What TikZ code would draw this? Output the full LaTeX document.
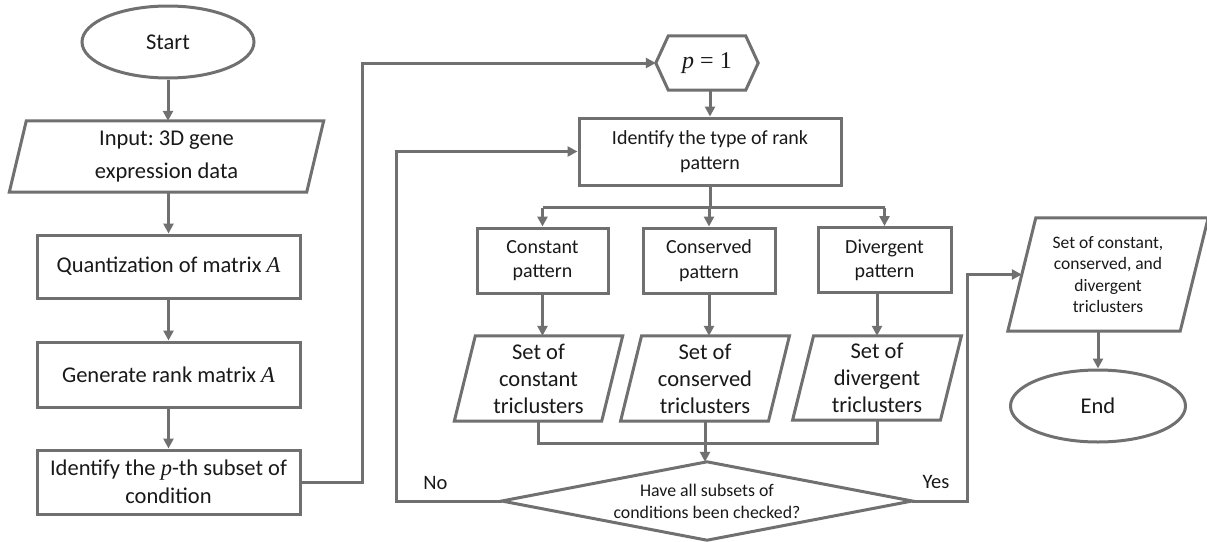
\documentclass[tikz,border=0pt]{standalone}
\usepackage{fontspec}
\setmainfont{Carlito}
\newfontfamily\mathfnt{Liberation Serif}
\newcommand\mv[1]{{\mathfnt\itshape #1}}
\frenchspacing
\usetikzlibrary{arrows.meta,shapes.geometric}
\definecolor{lc}{RGB}{112,112,112}
\definecolor{tc}{RGB}{25,25,25}
\newcommand\myparashape[2]{\draw[line,line join=miter] ([xshift=#2]#1.north west) -- ([xshift=#2]#1.north east) -- ([xshift=-#2]#1.south east) -- ([xshift=-#2]#1.south west) -- cycle;}
\tikzset{
  line/.style={draw=lc,line width=3pt},
  arr/.style={line,-{Triangle[length=10pt,width=10pt]}},
  box/.style={rectangle,draw=lc,line width=3pt,text=tc,align=center,inner sep=0pt},
  ghost/.style={rectangle,draw=none,text=tc,align=center,inner sep=0pt},
  oval/.style={ellipse,draw=lc,line width=3pt,text=tc,inner sep=0pt,minimum width=172pt,minimum height=72pt},
  bigtxt/.style={font=\fontsize{22.5}{30}\selectfont},
  midtxt/.style={font=\fontsize{20}{24.5}\selectfont},
  settxt/.style={font=\fontsize{22.5}{27}\selectfont},
  smalltxt/.style={font=\fontsize{17.8}{22}\selectfont},
}
\begin{document}
\begin{tikzpicture}[x=1pt,y=-1pt]
\useasboundingbox[fill=white] (0,0) rectangle (1207,541);
% left column
\node[oval,bigtxt] (start) at (168,42) {Start};
\node[ghost,font=\fontsize{22.5}{32.5}\selectfont,minimum width=297pt,minimum height=71pt] (input) at (166.5,156.5) {Input: 3D gene\\expression data};
\myparashape{input}{8.5}
\node[box,bigtxt,minimum width=263pt,minimum height=63pt] (quant) at (168.5,266.5) {Quantization of matrix \mv{A}};
\node[box,bigtxt,minimum width=263pt,minimum height=65pt] (gen) at (168.5,374.5) {Generate rank matrix \mv{A}};
\node[box,bigtxt,minimum width=263pt,minimum height=64pt,font=\fontsize{22.5}{28}\selectfont] (ident) at (168.5,482) {Identify the \mv{p}-th subset of\\condition};
% middle
\node[ghost,font=\fontsize{24}{28}\selectfont,minimum width=102pt,minimum height=54pt] (p1) at (707,63) {{\mathfnt\itshape p\upshape\ = 1}};
\draw[line,line join=miter] (p1.west) -- ([xshift=12.5]p1.north west) -- ([xshift=-12.5]p1.north east) -- (p1.east) -- ([xshift=-12.5]p1.south east) -- ([xshift=12.5]p1.south west) -- cycle;
\node[box,midtxt,minimum width=262pt,minimum height=67pt] (type) at (710,151.5) {Identify the type of rank\\pattern};
\node[box,midtxt,minimum width=131pt,minimum height=65pt] (cpat) at (542.5,260.5) {Constant\\pattern};
\node[box,midtxt,minimum width=132pt,minimum height=65pt] (vpat) at (709,260.5) {Conserved\\pattern};
\node[box,midtxt,minimum width=133pt,minimum height=65pt] (dpat) at (884.5,260) {Divergent\\pattern};
\node[ghost,settxt,minimum width=147pt,minimum height=85pt] (cset) at (538.5,378.5) {Set of\\constant\\triclusters};
\myparashape{cset}{10.5}
\node[ghost,settxt,minimum width=147.5pt,minimum height=85pt] (vset) at (705,378.5) {Set of\\conserved\\triclusters};
\myparashape{vset}{10.5}
\node[ghost,settxt,minimum width=147.5pt,minimum height=84pt] (dset) at (877,378) {Set of\\divergent\\triclusters};
\myparashape{dset}{10.5}
\node[ghost,smalltxt,minimum width=410pt,minimum height=78pt] (dia) at (707,501) {Have all subsets of\\conditions been checked?};
\draw[line,line join=miter] (dia.north) -- (dia.east) -- (dia.south) -- (dia.west) -- cycle;
\node[ghost,font=\fontsize{20.5}{24}\selectfont] (no) at (435.5,483) {No};
\node[ghost,font=\fontsize{20.5}{24}\selectfont] (yes) at (936,482) {Yes};
% right
\node[ghost,font=\fontsize{17.5}{21.6}\selectfont,minimum width=172pt,minimum height=113pt] (fin) at (1108,274.5) {Set of constant,\\conserved, and\\divergent\\triclusters};
\myparashape{fin}{14}
\node[oval,bigtxt,minimum width=175pt] (end) at (1098,406) {End};
% connectors
\draw[arr] (start.south) -- (start.south |- input.north);
\draw[arr] (quant.north |- input.south) -- (quant.north);
\draw[arr] (quant.south) -- (gen.north);
\draw[arr] (gen.south) -- (ident.north);
\draw[arr] (ident.east) -- (362,482) |- (p1.west);
\draw[arr] (p1.south -| type.north) -- (type.north);
\draw[line] (type.south) -- ++(0,21) coordinate (br);
\draw[line] (br -| cpat.north) -- (br -| dpat.north);
\draw[arr] (br -| cpat.north) -- (cpat.north);
\draw[arr] (br) -- (br -| vpat.north) -- (vpat.north);
\draw[arr] (br -| dpat.north) -- (dpat.north);
\draw[arr] (cpat.south) -- (cpat.south |- cset.north);
\draw[arr] (vpat.south) -- (vpat.south |- vset.north);
\draw[arr] (dpat.south -| dset.north) -- (dset.north);
\draw[line] (cset.south) -- ++(0,22) coordinate (mg) -- (mg -| dset.south) -- (dset.south);
\draw[arr] (vset.south) -- (vset.south |- dia.north);
\draw[arr] (dia.west) -- ++(-105,0) |- (type.west);
\draw[arr] (dia.east) -- ++(55,0) |- (fin.west);
\draw[arr] (end.north |- fin.south) -- (end.north);
\end{tikzpicture}
\end{document}
